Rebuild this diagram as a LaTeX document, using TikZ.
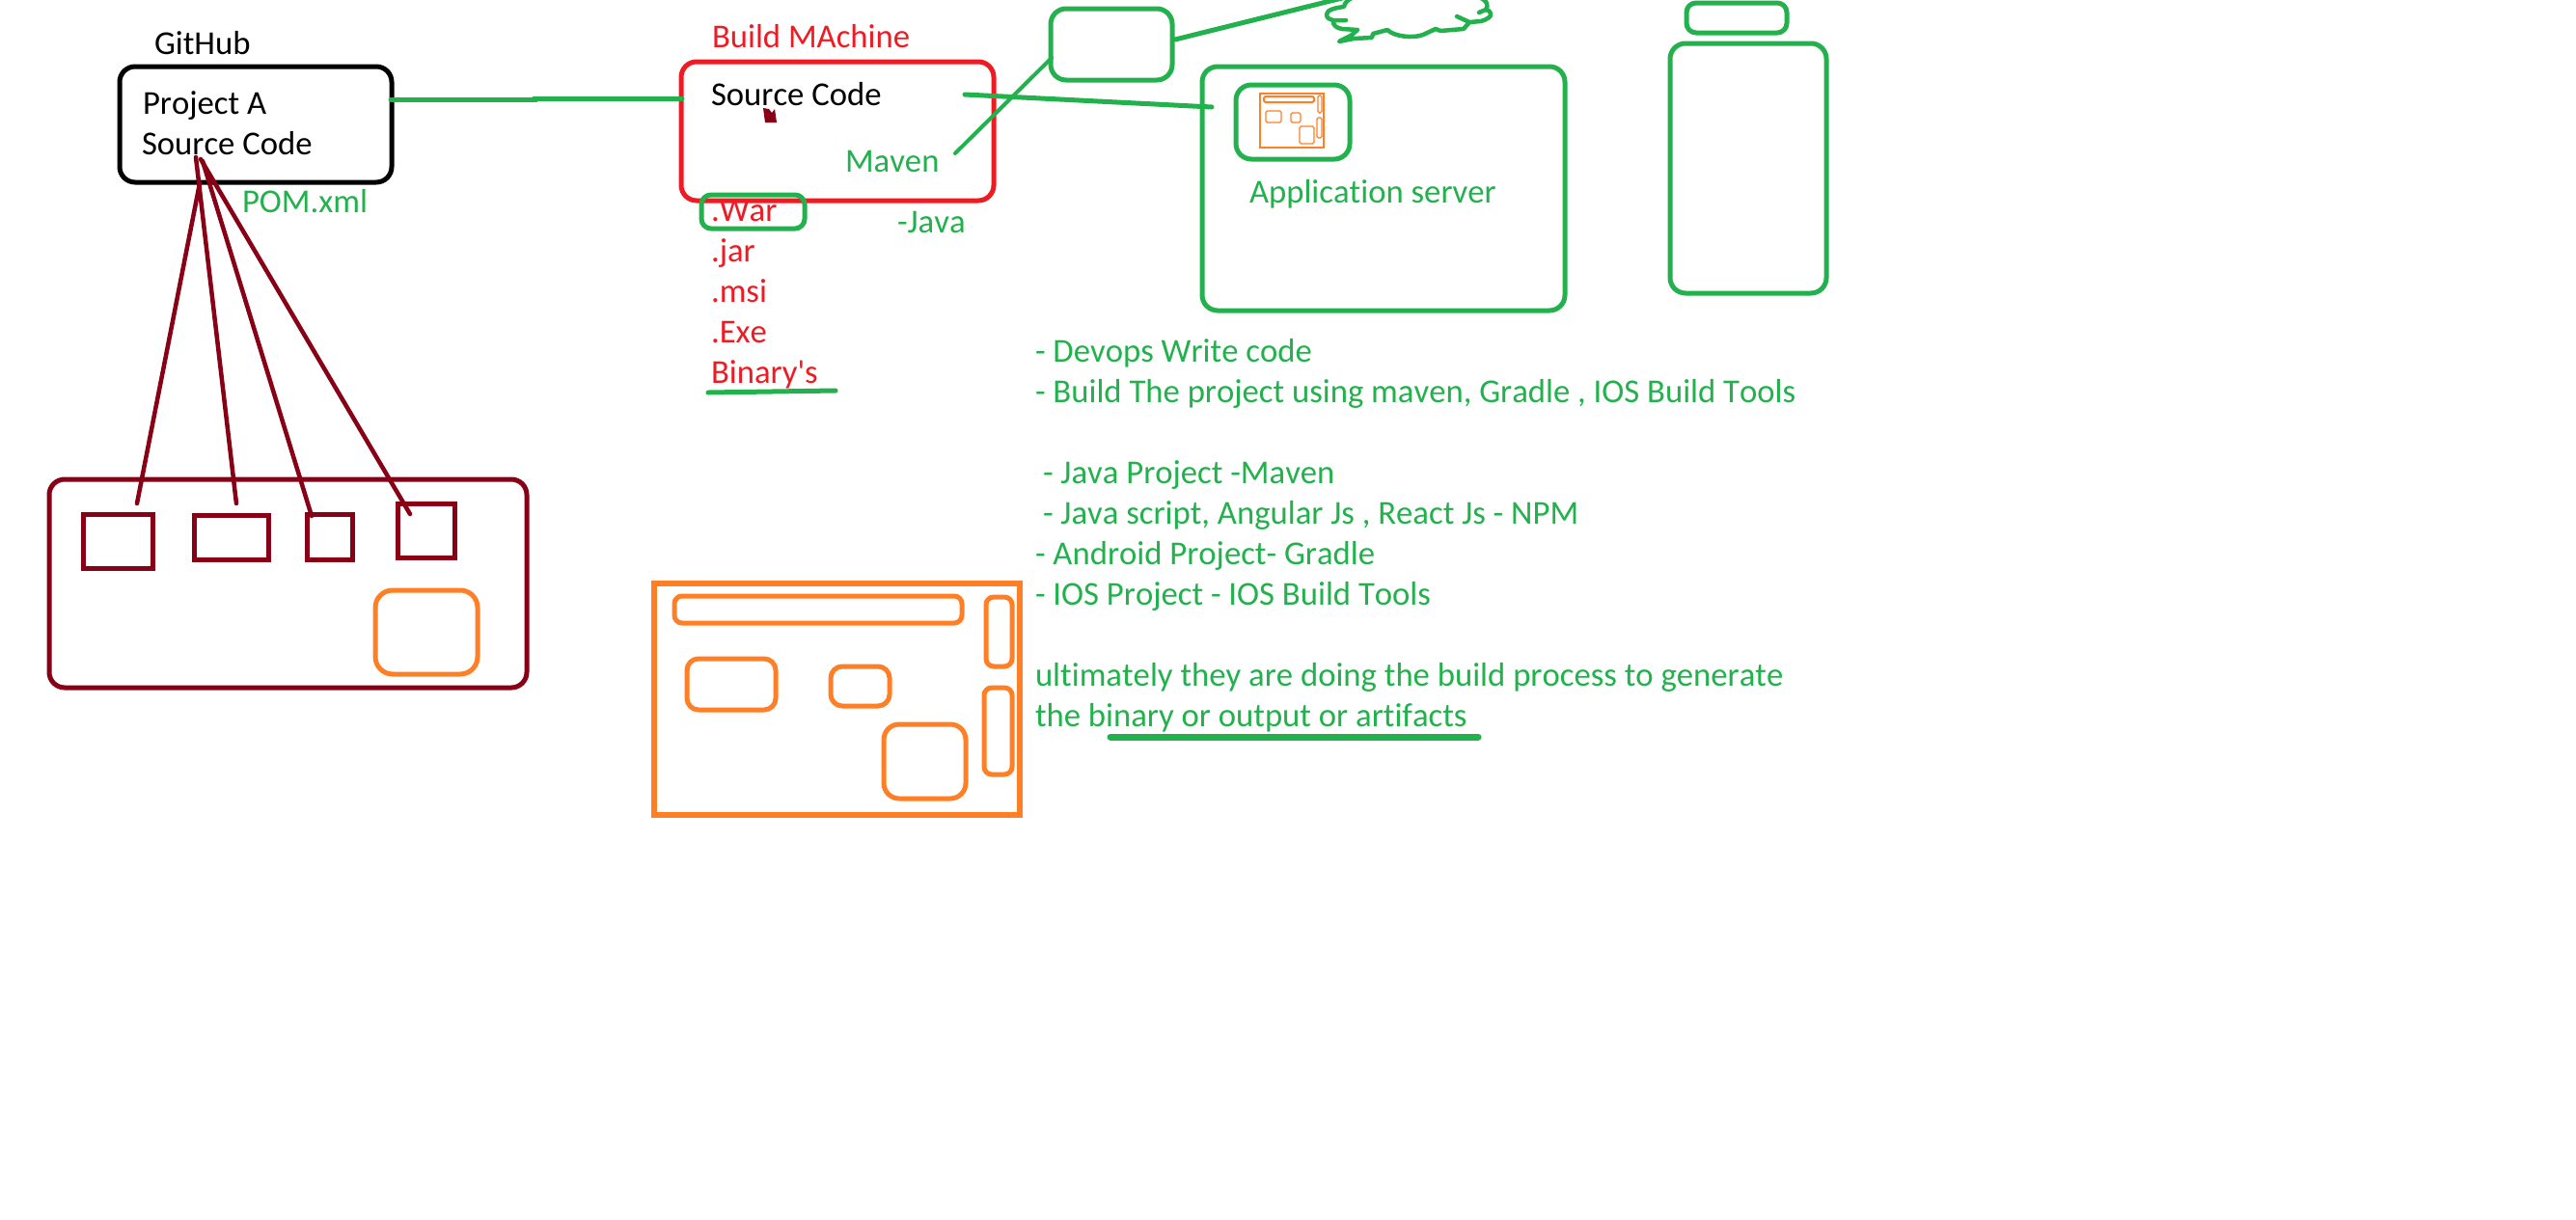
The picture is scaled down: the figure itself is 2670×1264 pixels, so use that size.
\documentclass[tikz,border=0pt]{standalone}
\usepackage{fontspec}
\setmainfont{Carlito}[Ligatures=ResetAll,Kerning=Off,RawFeature={-liga;-clig;-dlig}]
\font\rawcar="Carlito" at 34.7pt
\usetikzlibrary{calc}
\definecolor{pgreen}{HTML}{22B14C}
\definecolor{pred}{HTML}{ED1C24}
\definecolor{pdark}{HTML}{880015}
\definecolor{porange}{HTML}{FF7F27}
\newcommand{\rbox}[6][]{%
  \pgfmathsetmacro{\cx}{(#3+#5)/2}\pgfmathsetmacro{\cy}{(#4+#6)/2}%
  \pgfmathsetmacro{\bw}{#5-#3-2}\pgfmathsetmacro{\bh}{#6-#4-2}%
  \node[boxbase,#1,minimum width=\bw pt,minimum height=\bh pt] (#2) at (\cx,\cy) {};}
\tikzset{
  x=1pt,y=-1pt,
  boxbase/.style={inner sep=0pt,outer sep=0pt,line width=5pt,fill=none},
  gbox/.style={draw=pgreen,rounded corners=16pt},
  obox/.style={draw=porange,rounded corners=12pt},
  sbox/.style={draw=pdark,sharp corners,line width=5pt},
  lbl/.style={anchor=base west,inner sep=0pt,outer sep=0pt,font=\fontsize{34.7}{40}\selectfont},
  glbl/.style={lbl,text=pgreen},
  rlbl/.style={lbl,text=pred},
  klbl/.style={lbl,text=black},
  gline/.style={draw=pgreen,line width=5pt,line cap=round},
  dline/.style={draw=pdark,line width=4.5pt,line cap=round},
  mini/.style={draw=porange,line width=1.2pt,rounded corners=1.5pt},
}
\begin{document}
\begin{tikzpicture}
\fill[white] (0,0) rectangle (2670,1264);
\useasboundingbox (0,0) rectangle (2670,1264);
% boxes
\rbox[draw=black,rounded corners=16pt]{gh}{123}{68}{407}{190}
\rbox[draw=pred,rounded corners=16pt]{bm}{705}{63}{1031}{209}
\rbox[gbox,rounded corners=10pt]{war}{726}{201}{835}{238}
\rbox[gbox]{mvn}{1088}{8}{1216}{84}
\rbox[gbox]{app}{1245}{68}{1623}{323}
\rbox[gbox]{inner}{1280}{87}{1400}{166}
\rbox[gbox,rounded corners=10pt]{cap}{1747}{2}{1853}{35}
\rbox[gbox]{bottle}{1730}{44}{1894}{305}
\rbox[draw=pdark,rounded corners=16pt]{host}{50}{496}{547}{714}
\rbox[sbox]{s1}{85.5}{532.5}{159.5}{590.5}
\rbox[sbox]{s2}{200.5}{533.5}{279.5}{581.5}
\rbox[sbox]{s3}{317.5}{532.5}{366.5}{581.5}
\rbox[sbox]{s4}{411.5}{521.5}{472.5}{579.5}
\rbox[obox,rounded corners=18pt]{o0}{388}{611}{496}{700}
\rbox[draw=porange,sharp corners,line width=6pt]{board}{677}{604}{1058}{846}
\rbox[obox,rounded corners=8pt]{o1}{698}{617}{998}{647}
\rbox[obox,rounded corners=8pt]{o2}{1021}{618}{1050}{692}
\rbox[obox]{o3}{711}{682}{805}{737}
\rbox[obox]{o4}{860}{690}{923}{733}
\rbox[obox,rounded corners=8pt]{o5}{1019}{712}{1050}{804}
\rbox[obox,rounded corners=16pt]{o6}{915}{750}{1002}{829}
% mini board
\node[draw=porange,line width=1.2pt,inner sep=0pt,minimum width=66pt,minimum height=56pt] (mb) at (1339,125) {};
\draw[mini,line width=2pt] (1310,100) rectangle (1362,106);
\draw[mini] (1366,99) rectangle (1370,117);
\draw[mini] (1312,115) rectangle (1328,127);
\draw[mini] (1338,117) rectangle (1348,127);
\draw[mini] (1365,122) rectangle (1370,143);
\draw[mini] (1347,131) rectangle (1362,149);
% text
\node[klbl] (tgh) at (160,56.5) {GitHub};
\node[klbl] (tpa) at (148,118.5) {Project A};
\node[klbl] (tsc) at (147,160.5) {Source Code};
\node[rlbl] (tbm) at (738,49.5) {Build MAchine};
\node[klbl] (tsc2) at (737,109.5) {Source Code};
\node[glbl] (tmv) at (876,178.5) {Maven};
\node[glbl] (tpom) at (251,220.5) {POM.xml};
\node[rlbl] (twar) at (737,229.5) {.War};
\node[rlbl] (tjar) at (737,271.5) {.jar};
\node[rlbl] (tmsi) at (737,313.5) {.msi};
\node[rlbl] (texe) at (737,355.5) {.Exe};
\node[rlbl] (tbin) at (737,397.5) {Binary{\rawcar '}s};
\node[glbl] (tjava) at (930,241.5) {-Java};
\node[glbl] (tapp) at (1295,210.5) {Application server};
\node[glbl] (l1) at (1073,375.5) {- Devops Write code};
\node[glbl] (l2) at (1073,417.5) {- Build The project using maven, Gradle , IOS Build Tools};
\node[glbl] (l3) at (1081,501.5) {- Java Project -Maven};
\node[glbl] (l4) at (1081,543.5) {- Java script, Angular Js , React Js - NPM};
\node[glbl] (l5) at (1073,585.5) {- Android Project- Gradle};
\node[glbl] (l6) at (1073,627.5) {- IOS Project - IOS Build Tools};
\node[glbl] (l7) at (1073,711.5) {ultimately they are doing the build process to generate};
\node[glbl] (l8) at (1073,753.5) {the binary or output or artifacts};
% free ends
\coordinate (ghout) at (405,103);
\coordinate (bmin) at (707,102);
\coordinate (srcout) at (1000,98);
\coordinate (appin) at (1256,111);
\coordinate (mvnfrom) at (990,159);
\coordinate (mvnin) at (1090,60);
\coordinate (mvnout) at (1218,41);
\coordinate (cloudin) at (1395,-3);
\coordinate (g1) at (207,190);
\coordinate (g2) at (203,163);
\coordinate (g3) at (210,167);
\coordinate (g4) at (208,165);
\coordinate (e1) at (142,522);
\coordinate (e2) at (245,522);
\coordinate (e3) at (323,535);
\coordinate (e4) at (425,533);
\coordinate (u1a) at (734,407);
\coordinate (u1b) at (866,405);
\coordinate (u2a) at (1151,764);
\coordinate (u2b) at (1532,764);
% connectors
\draw[gline] (ghout) -- (554,103) -- (554,102) -- (bmin);
\draw[gline] (srcout) -- (appin);
\draw[gline,line width=4pt] (mvnfrom) -- (mvnin);
\draw[gline] (mvnout) -- (cloudin);
\draw[dline] (g1) -- (e1);
\draw[dline] (g2) -- (e2);
\draw[dline] (g3) -- (e3);
\draw[dline] (g4) -- (e4);
\fill[pdark] (791,112) -- (797,113) -- (800,117) -- (803,113) -- (805,127) -- (793,127) -- cycle;
\draw[gline,line width=5pt] (u1a) -- (u1b);
\draw[gline,line width=7pt] (u2a) -- (u2b);
% cloud
\draw[gline,line width=4.5pt,line join=round]
  (1403,-3) .. controls (1396,0) and (1394,3) .. (1393,7)
  .. controls (1385,8) and (1375,10) .. (1375,15)
  .. controls (1375,19) and (1378,20) .. (1382,21)
  .. controls (1381,26) and (1385,29) .. (1391,30)
  -- (1407,31)
  (1395,21) -- (1382,21)
  (1407,31) -- (1400,37) -- (1388,43) -- (1403,40) -- (1422,39) -- (1423,35) -- (1438,31)
  .. controls (1445,38) and (1465,40) .. (1475,36)
  -- (1488,30) -- (1493,32) -- (1517,30) -- (1523,23)
  -- (1510,17)
  (1523,23) -- (1535,22)
  .. controls (1542,20) and (1546,17) .. (1545,14)
  .. controls (1545,12) and (1542,10) .. (1540,10) -- (1533,13)
  (1540,10) .. controls (1543,6) and (1542,1) .. (1533,-3);
\end{tikzpicture}
\end{document}
